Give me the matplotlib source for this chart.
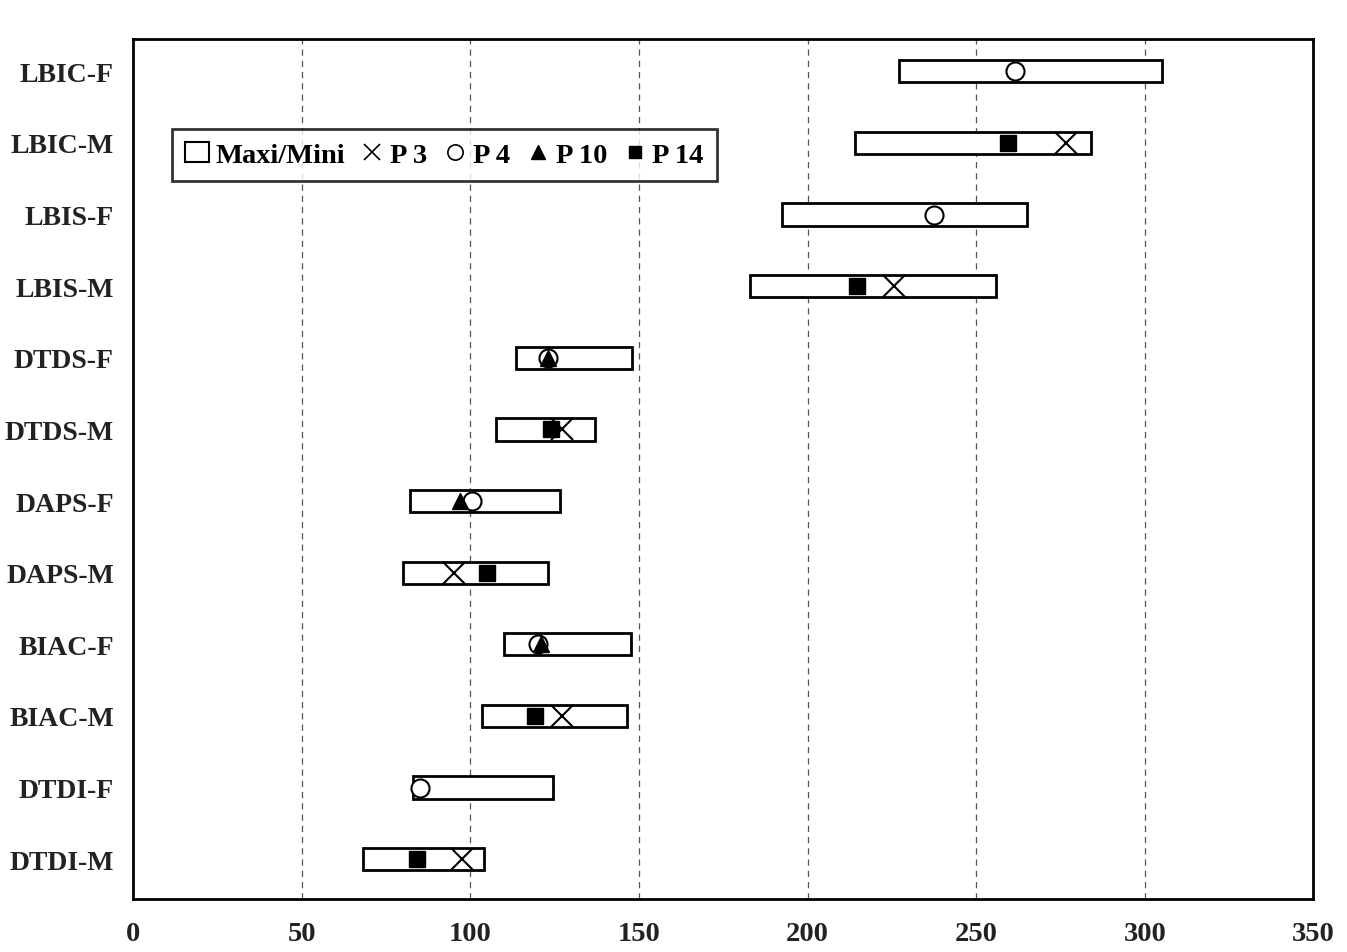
import matplotlib
matplotlib.use("Agg")
import matplotlib.pyplot as plt
from matplotlib.patches import Patch
from matplotlib.lines import Line2D

categories = ["LBIC-F", "LBIC-M", "LBIS-F", "LBIS-M", "DTDS-F", "DTDS-M",
              "DAPS-F", "DAPS-M", "BIAC-F", "BIAC-M", "DTDI-F", "DTDI-M"]
mini = [227, 214, 192.5, 183, 113.5, 107.5, 82, 80, 110, 103.5, 83, 68]
maxi = [305, 284, 265, 256, 148, 137, 126.5, 123, 147.5, 146.5, 124.5, 104]
# None = not shown
p3 = [None, 276.5, None, 225.5, None, 127, None, 95, None, 127, None, 97.5]
p4 = [261.5, None, 237.5, None, 123, None, 100.5, None, 120, None, 85, None]
p10 = [None, None, None, None, 123, None, 97, None, 121, None, None, None]
p14 = [None, 259.5, None, 214.5, None, 124, None, 105, None, 119, None, 84]
xticks = [0, 50, 100, 150, 200, 250, 300, 350]

plt.rcParams['font.family'] = ['Liberation Serif', 'DejaVu Serif']
plt.rcParams['font.weight'] = 'bold'

fig = plt.figure(figsize=(13.47, 9.53), dpi=100)
ax = fig.add_axes([0.099, 0.056, 0.876, 0.902])

ypos = list(range(len(categories)))
for x in xticks[1:-1]:
    ax.axvline(x, color='#555555', lw=0.9, ls=(0, (5, 4)), zorder=0)

ax.barh(ypos, [b - a for a, b in zip(mini, maxi)], left=mini, height=0.31,
        facecolor='white', edgecolor='black', linewidth=2, zorder=2)

def pts(series):
    xs, ys = [], []
    for i, v in enumerate(series):
        if v is not None:
            xs.append(v); ys.append(i)
    return xs, ys

x4, y4 = pts(p4)
ax.plot(x4, y4, ls='none', marker='o', ms=13, mfc='white', mec='black', mew=1.5, zorder=3)
x10, y10 = pts(p10)
ax.plot(x10, y10, ls='none', marker='^', ms=11, mfc='black', mec='black', zorder=4)
x14, y14 = pts(p14)
ax.plot(x14, y14, ls='none', marker='s', ms=11, mfc='black', mec='black', zorder=4)
x3, y3 = pts(p3)
ax.plot(x3, y3, ls='none', marker='x', ms=16, mec='black', mew=1.5, zorder=4)

ax.set_xlim(0, 350)
ax.set_ylim(11.55, -0.45)
ax.set_yticks(ypos)
ax.set_yticklabels(categories, fontsize=20, fontweight='bold', color='#222222')
ax.set_xticks(xticks)
ax.set_xticklabels([str(t) for t in xticks], fontsize=20.5, fontweight='bold', color='#222222')
ax.tick_params(length=0)
ax.tick_params(axis='x', pad=16)
ax.tick_params(axis='y', pad=14)
for s in ax.spines.values():
    s.set_linewidth(2)

handles = [
    Patch(facecolor='white', edgecolor='black', linewidth=1.5),
    Line2D([], [], ls='none', marker='x', ms=12, mec='black', mew=1.2),
    Line2D([], [], ls='none', marker='o', ms=11, mfc='white', mec='black', mew=1.2),
    Line2D([], [], ls='none', marker='^', ms=10, mfc='black', mec='black'),
    Line2D([], [], ls='none', marker='s', ms=9, mfc='black', mec='black'),
]
labels = ["Maxi/Mini", "P 3", "P 4", "P 10", "P 14"]
leg = ax.legend(handles, labels, loc='upper left', bbox_to_anchor=(0.033, 0.895),
                ncol=5, frameon=True, fancybox=False, borderaxespad=0,
                prop={'size': 20.5, 'weight': 'bold'}, handlelength=0.85,
                handletextpad=0.2, columnspacing=0.55, borderpad=0.45)
leg.get_frame().set_edgecolor('black')
leg.get_frame().set_linewidth(2)

fig.savefig("out.png", dpi=100)
